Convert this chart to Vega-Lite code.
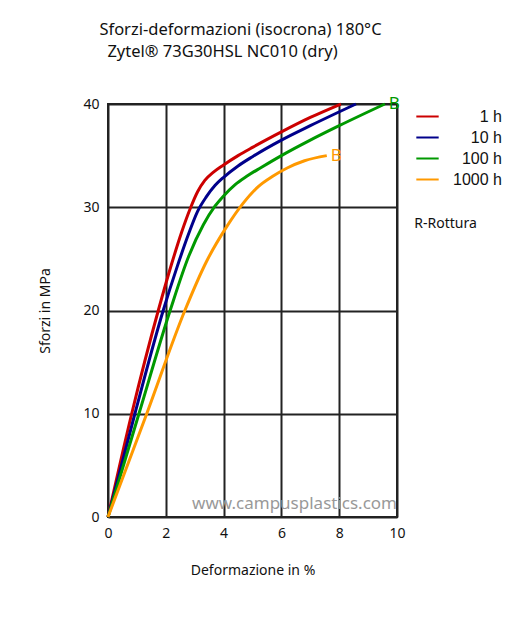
{
  "$schema": "https://vega.github.io/schema/vega-lite/v6.json",
  "autosize": {"type": "none"},
  "padding": {"left": 108, "top": 104, "right": 131, "bottom": 106},
  "width": 289,
  "height": 413,
  "background": "white",
  "config": {
    "font": "Noto Sans",
    "view": {"stroke": "#222", "strokeWidth": 2}
  },
  "title": {
    "text": ["Sforzi-deformazioni (isocrona) 180°C", "Zytel® 73G30HSL NC010 (dry)⠀⠀⠀"],
    "fontSize": 16.5,
    "fontWeight": "normal",
    "font": "Noto Sans",
    "color": "#111",
    "anchor": "middle",
    "dx": -12,
    "offset": 35,
    "lineHeight": 22
  },
  "datasets": {
    "curves": [
      {"t": "1 h", "x": 0, "y": 0},
      {"t": "1 h", "x": 0.82, "y": 10},
      {"t": "1 h", "x": 1.74, "y": 20},
      {"t": "1 h", "x": 2.2, "y": 24.5},
      {"t": "1 h", "x": 2.55, "y": 27.6},
      {"t": "1 h", "x": 2.85, "y": 29.9},
      {"t": "1 h", "x": 3.1, "y": 31.5},
      {"t": "1 h", "x": 3.35, "y": 32.6},
      {"t": "1 h", "x": 3.65, "y": 33.4},
      {"t": "1 h", "x": 4, "y": 34.1},
      {"t": "1 h", "x": 4.5, "y": 35.0},
      {"t": "1 h", "x": 5, "y": 35.8},
      {"t": "1 h", "x": 6, "y": 37.3},
      {"t": "1 h", "x": 7, "y": 38.7},
      {"t": "1 h", "x": 8.06, "y": 40},
      {"t": "10 h", "x": 0, "y": 0},
      {"t": "10 h", "x": 0.93, "y": 10},
      {"t": "10 h", "x": 1.91, "y": 20},
      {"t": "10 h", "x": 2.4, "y": 24.3},
      {"t": "10 h", "x": 2.8, "y": 27.5},
      {"t": "10 h", "x": 3.1, "y": 29.6},
      {"t": "10 h", "x": 3.4, "y": 31.0},
      {"t": "10 h", "x": 3.7, "y": 32.1},
      {"t": "10 h", "x": 4, "y": 32.9},
      {"t": "10 h", "x": 4.5, "y": 34.0},
      {"t": "10 h", "x": 5, "y": 34.9},
      {"t": "10 h", "x": 6, "y": 36.5},
      {"t": "10 h", "x": 7, "y": 37.9},
      {"t": "10 h", "x": 8.58, "y": 40},
      {"t": "100 h", "x": 0, "y": 0},
      {"t": "100 h", "x": 1.07, "y": 10},
      {"t": "100 h", "x": 2.15, "y": 20},
      {"t": "100 h", "x": 2.8, "y": 25.3},
      {"t": "100 h", "x": 3.3, "y": 28.3},
      {"t": "100 h", "x": 3.7, "y": 30.1},
      {"t": "100 h", "x": 4, "y": 31.1},
      {"t": "100 h", "x": 4.4, "y": 32.2},
      {"t": "100 h", "x": 4.8, "y": 33.0},
      {"t": "100 h", "x": 5.3, "y": 33.85},
      {"t": "100 h", "x": 6, "y": 35.0},
      {"t": "100 h", "x": 7, "y": 36.5},
      {"t": "100 h", "x": 8, "y": 37.9},
      {"t": "100 h", "x": 9.58, "y": 40},
      {"t": "1000 h", "x": 0, "y": 0},
      {"t": "1000 h", "x": 1.34, "y": 10},
      {"t": "1000 h", "x": 2.66, "y": 20},
      {"t": "1000 h", "x": 3.4, "y": 24.7},
      {"t": "1000 h", "x": 4.08, "y": 28.0},
      {"t": "1000 h", "x": 4.68, "y": 30.4},
      {"t": "1000 h", "x": 5.2, "y": 32.0},
      {"t": "1000 h", "x": 5.7, "y": 33.0},
      {"t": "1000 h", "x": 6.2, "y": 33.8},
      {"t": "1000 h", "x": 6.8, "y": 34.5},
      {"t": "1000 h", "x": 7.57, "y": 35.0}
    ],
    "labels": [
      {"t": "100 h", "x": 9.58, "y": 40, "label": "B"},
      {"t": "1000 h", "x": 7.57, "y": 35.0, "label": "B"}
    ],
    "notes": [
      {"x": 10, "y": 1.3, "label": "www.campusplastics.com"}
    ],
    "side": [
      {"x": 10.6, "y": 28.4, "label": "R-Rottura"}
    ]
  },
  "layer": [
    {
      "data": {"name": "notes"},
      "mark": {"type": "text", "align": "right", "baseline": "middle", "fontSize": 17, "color": "#999", "font": "Noto Sans"},
      "encoding": {
        "x": {"field": "x", "type": "quantitative", "scale": {"domain": [0, 10]}},
        "y": {"field": "y", "type": "quantitative", "scale": {"domain": [0, 40]}},
        "text": {"field": "label"}
      }
    },
    {
      "data": {"name": "curves"},
      "mark": {"type": "line", "interpolate": "monotone", "strokeWidth": 3, "clip": false},
      "encoding": {
        "x": {
          "field": "x", "type": "quantitative",
          "scale": {"domain": [0, 10], "nice": false},
          "axis": {
            "title": "Deformazione in %", "titleFontSize": 14, "titleFontWeight": "normal", "titleColor": "#111", "titlePadding": 23,
            "values": [0, 2, 4, 6, 8, 10], "labelFontSize": 14, "labelColor": "#111", "labelPadding": 9, "labelFlush": false,
            "ticks": false, "domain": false, "grid": true, "gridColor": "#222", "gridWidth": 2, "gridOpacity": 1
          }
        },
        "y": {
          "field": "y", "type": "quantitative",
          "scale": {"domain": [0, 40], "nice": false},
          "axis": {
            "title": "Sforzi in MPa", "titleFontSize": 14, "titleFontWeight": "normal", "titleColor": "#111", "titlePadding": 30,
            "values": [0, 10, 20, 30, 40], "labelFontSize": 14, "labelColor": "#111", "labelPadding": 9, "labelFlush": false,
            "ticks": false, "domain": false, "grid": true, "gridColor": "#222", "gridWidth": 2, "gridOpacity": 1
          }
        },
        "color": {
          "field": "t", "type": "nominal",
          "scale": {"domain": ["1 h", "10 h", "100 h", "1000 h"], "range": ["#cc0000", "#00008b", "#009900", "#ff9900"]},
          "legend": {
            "title": null, "orient": "right", "offset": 18,
            "symbolType": "stroke", "symbolSize": 500, "symbolStrokeWidth": 2,
            "labelFont": "Liberation Sans", "labelFontSize": 16, "labelColor": "#111",
            "labelAlign": "right", "labelOffset": 62, "rowPadding": 0
          }
        }
      }
    },
    {
      "data": {"name": "labels"},
      "mark": {"type": "text", "align": "left", "baseline": "middle", "dx": 4, "fontSize": 17, "clip": false},
      "encoding": {
        "x": {"field": "x", "type": "quantitative"},
        "y": {"field": "y", "type": "quantitative"},
        "text": {"field": "label"},
        "color": {"field": "t", "type": "nominal", "legend": null}
      }
    },
    {
      "data": {"name": "side"},
      "mark": {"type": "text", "align": "left", "baseline": "middle", "fontSize": 14, "color": "#111", "clip": false},
      "encoding": {
        "x": {"field": "x", "type": "quantitative"},
        "y": {"field": "y", "type": "quantitative"},
        "text": {"field": "label"}
      }
    }
  ]
}
